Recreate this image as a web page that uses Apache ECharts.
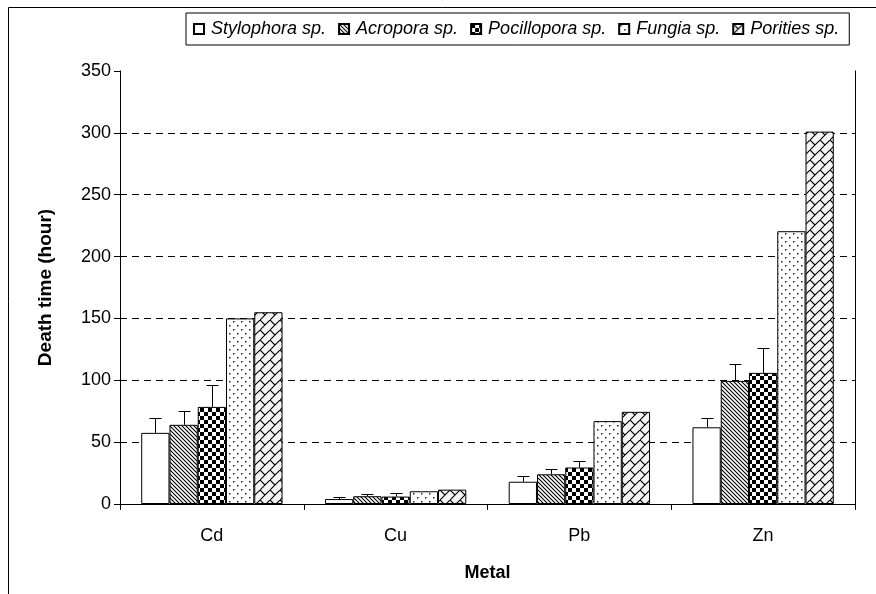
<!DOCTYPE html>
<html>
<head>
<meta charset="utf-8">
<script src="https://cdn.jsdelivr.net/npm/echarts@6/dist/echarts.min.js"></script>
<style>
html,body{margin:0;padding:0;background:#fff;}
#chart{width:876px;height:594px;}
</style>
</head>
<body>
<div id="chart"></div>
<script>
// ---- data ----
const categories = ['Cd', 'Cu', 'Pb', 'Zn'];
const seriesNames = ['Stylophora sp.', 'Acropora sp.', 'Pocillopora sp.', 'Fungia sp.', 'Porities sp.'];
const stylophora = [57.5, 4, 18, 62];
const acropora = [64, 6.3, 24, 99.5];
const pocillopora = [78.5, 6, 29.5, 106];
const fungia = [150, 10.3, 67, 220.5];
const porities = [155, 11.6, 74.5, 301];
const stylophoraErr = [12, 1.7, 5, 7.5];
const acroporaErr = [11.5, 1.6, 4, 14];
const pocilloporaErr = [18, 2.8, 5, 20.5];
const yTicks = [0, 50, 100, 150, 200, 250, 300, 350];

// ---- patterns ----
function tile(size, draw) {
  const c = document.createElement('canvas');
  c.width = size; c.height = size;
  const g = c.getContext('2d');
  g.fillStyle = '#fff'; g.fillRect(0, 0, size, size);
  draw(g, size);
  return { image: c, repeat: 'repeat' };
}
const patWhite = '#ffffff';
const patDiag = tile(4, (g, s) => {
  g.strokeStyle = '#000'; g.lineWidth = 1.1;
  g.beginPath();
  g.moveTo(-1, -1); g.lineTo(s + 1, s + 1);
  g.moveTo(-1, s - 1); g.lineTo(1, s + 1);
  g.moveTo(s - 1, -1); g.lineTo(s + 1, 1);
  g.stroke();
});
const patChecker = tile(8, (g, s) => {
  g.fillStyle = '#000';
  g.fillRect(0, 0, 4, 4); g.fillRect(4, 4, 4, 4);
});
const patDots = tile(8, (g, s) => {
  g.fillStyle = '#222';
  g.fillRect(1, 1, 1.5, 1.5); g.fillRect(5, 5, 1.5, 1.5);
});
const patBrick = tile(10, (g, s) => {
  g.fillStyle = '#f4f4f4'; g.fillRect(0, 0, s, s);
  g.strokeStyle = '#000'; g.lineWidth = 1.1;
  g.beginPath();
  g.moveTo(-1, s + 1); g.lineTo(s + 1, -1);
  g.moveTo(0, 0); g.lineTo(s / 2, s / 2);
  g.stroke();
});
const fills = [patWhite, patDiag, patChecker, patDots, patBrick];
const values = [stylophora, acropora, pocillopora, fungia, porities];
const errs = [stylophoraErr, acroporaErr, pocilloporaErr];

const font = 'Liberation Sans, Arial, sans-serif';

const barSeries = seriesNames.map((name, k) => ({
  name: name,
  type: 'bar',
  data: values[k],
  barGap: '0%',
  barCategoryGap: '23.08%',
  itemStyle: { color: fills[k], borderColor: '#000', borderWidth: 1 },
  emphasis: { disabled: true },
  z: 2
}));

const errSeries = errs.map((arr, k) => ({
  type: 'custom',
  name: 'err' + k,
  z: 5,
  silent: true,
  encode: { x: 0, y: 1 },
  data: arr.map((e, i) => [i, values[k][i], e]),
  renderItem: function (params, api) {
    const i = api.value(0), v = api.value(1), e = api.value(2);
    const base = api.coord([i, v]);
    const top = api.coord([i, v + e]);
    const band = api.size([1, 0])[0];
    const bw = band / 6.5;
    const x = Math.round(base[0] + (k - 2) * bw) + 0.5;
    const yt = Math.round(top[1]) + 0.5;
    return {
      type: 'group',
      children: [
        { type: 'line', shape: { x1: x, y1: base[1], x2: x, y2: yt }, style: { stroke: '#000', lineWidth: 1 } },
        { type: 'line', shape: { x1: x - 6, y1: yt, x2: x + 6, y2: yt }, style: { stroke: '#000', lineWidth: 1 } }
      ]
    };
  }
}));

const chart = echarts.init(document.getElementById('chart'), null, { renderer: 'canvas' });
chart.setOption({
  animation: false,
  backgroundColor: '#fff',
  textStyle: { fontFamily: font },
  grid: { left: 120, right: 21, top: 71, bottom: 90 },
  legend: {
    data: seriesNames,
    icon: 'rect',
    left: 186,
    top: 13,
    itemWidth: 10,
    itemHeight: 10,
    itemGap: 12,
    padding: [7, 10, 7, 7],
    borderColor: '#000',
    borderWidth: 1,
    selectedMode: false,
    textStyle: { fontFamily: font, fontStyle: 'italic', fontSize: 18, color: '#000', padding: [0, 0, 0, 2] }
  },
  xAxis: {
    type: 'category',
    data: categories,
    boundaryGap: true,
    axisLine: { lineStyle: { color: '#000', width: 1 } },
    axisTick: { show: true, length: 6, lineStyle: { color: '#000' } },
    axisLabel: { color: '#000', fontSize: 18, margin: 23, fontFamily: font },
    name: 'Metal',
    nameLocation: 'middle',
    nameGap: 60,
    nameTextStyle: { color: '#000', fontSize: 18, fontWeight: 'bold', fontFamily: font }
  },
  yAxis: [{
    type: 'value',
    min: 0, max: 350, interval: 50,
    axisLine: { show: true, lineStyle: { color: '#000', width: 1 } },
    axisTick: { show: true, length: 6, lineStyle: { color: '#000' } },
    axisLabel: {
      color: '#000', fontSize: 18, margin: 9, fontFamily: font,
      formatter: function (v) { return yTicks.indexOf(v) >= 0 ? String(v) : ''; }
    },
    splitLine: {
      show: true,
      lineStyle: { color: ['rgba(0,0,0,0)', '#000', '#000', '#000', '#000', '#000', '#000', 'rgba(0,0,0,0)'], type: [7, 5], width: 1 }
    },
    name: 'Death time (hour)',
    nameLocation: 'middle',
    nameRotate: 90,
    nameGap: 65,
    nameTextStyle: { color: '#000', fontSize: 19, fontWeight: 'bold', fontFamily: font }
  }, {
    type: 'value',
    position: 'right',
    min: 0, max: 350, interval: 50,
    axisLine: { show: true, lineStyle: { color: '#000', width: 1 } },
    axisTick: { show: false },
    axisLabel: { show: false },
    splitLine: { show: false }
  }],
  graphic: [{
    type: 'rect',
    shape: { x: 8.5, y: 7.5, width: 1000, height: 1000 },
    style: { fill: 'none', stroke: '#000', lineWidth: 1 },
    silent: true,
    z: 100
  }],
  series: barSeries.concat(errSeries)
});
</script>
</body>
</html>
